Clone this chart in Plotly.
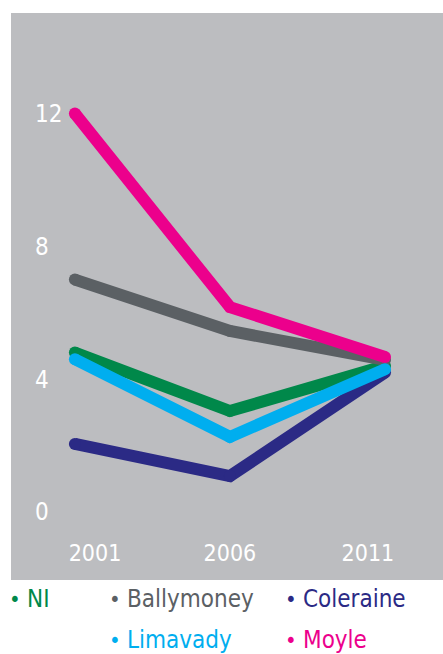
import plotly.graph_objects as go

years = [2001, 2006, 2011]
series_names = ["Coleraine", "NI", "Ballymoney", "Limavady", "Moyle"]
coleraine = [2.05, 1.08, 4.2]
ni = [4.8, 3.04, 4.4]
ballymoney = [7.0, 5.45, 4.58]
limavady = [4.6, 2.26, 4.3]
moyle = [12.0, 6.17, 4.67]
series_values = [coleraine, ni, ballymoney, limavady, moyle]
colors = ["#2B2A85", "#00884A", "#5B6064", "#00AEEF", "#EC008C"]

y_ticks = [0, 4, 8, 12]
x_tick_labels = ["2001", "2006", "2011"]
x_tick_positions = [2001.65, 2006.0, 2010.45]

W, H = 443, 654
L, R, T, B = 11, 0, 13, 74
PW, PH = W - L - R, H - T - B

fig = go.Figure()
for name, vals, col in zip(series_names, series_values, colors):
    fig.add_trace(go.Scatter(
        x=years, y=vals, name=name, mode="lines+markers",
        line=dict(color=col, width=12),
        marker=dict(color=col, size=12, line=dict(width=0)),
        showlegend=False, hoverinfo="skip",
    ))

# legend (annotations)
legend_order = ["NI", "Ballymoney", "Coleraine", "Limavady", "Moyle"]
legend_pos = [(15, 599), (115, 599), (291, 599), (115, 640), (291, 640)]
cmap = dict(zip(series_names, colors))
font_family = "DejaVu Sans Condensed, Liberation Sans Narrow, sans-serif"
for name, (bx, by) in zip(legend_order, legend_pos):
    fx = lambda px: (px - L) / PW
    fy = lambda py: (H - B - py) / PH
    fig.add_annotation(x=fx(bx), y=fy(by), xref="paper", yref="paper",
                       text="•", showarrow=False, xanchor="center", yanchor="middle",
                       font=dict(family=font_family, size=22, color=cmap[name]))
    fig.add_annotation(x=fx(bx + 10), y=fy(by), xref="paper", yref="paper",
                       text=name, showarrow=False, xanchor="left", yanchor="middle",
                       font=dict(family=font_family, size=24, color=cmap[name]))

fig.update_layout(
    width=W, height=H,
    margin=dict(l=L, r=R, t=T, b=B, pad=0),
    paper_bgcolor="white",
    plot_bgcolor="#BCBDC0",
    font=dict(family=font_family),
    xaxis=dict(range=[1998.94, 2012.87], tickvals=x_tick_positions, ticktext=x_tick_labels,
               ticklabelposition="inside", ticklabelstandoff=11,
               showgrid=False, zeroline=False, showline=False, ticks="",
               tickfont=dict(size=23, color="white"), fixedrange=True),
    yaxis=dict(range=[-2.05, 15.03], tickvals=y_ticks,
               ticklabelposition="inside", ticklabelstandoff=21,
               showgrid=False, zeroline=False, showline=False, ticks="",
               tickfont=dict(size=24, color="white"), fixedrange=True),
)

fig.write_html("out.html")
